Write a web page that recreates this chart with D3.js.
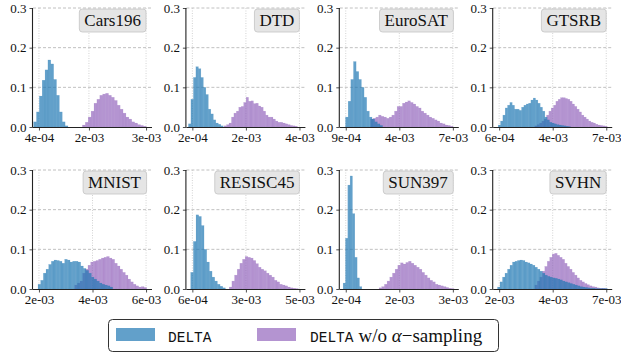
<!DOCTYPE html>
<html>
<head>
<meta charset="utf-8">
<script src="https://cdn.jsdelivr.net/npm/d3@7/dist/d3.min.js"></script>
<style>
  html, body { margin: 0; padding: 0; background: #fff; }
  svg { display: block; }
</style>
</head>
<body>
<svg id="chart" width="621" height="354"></svg>
<script>
// ---------------- data ----------------
const datasets = ["Cars196", "DTD", "EuroSAT", "GTSRB", "MNIST", "RESISC45", "SUN397", "SVHN"];
const yTicks = [0.0, 0.1, 0.2, 0.3];

// x tick labels (rounded values as printed) and their relative positions on each axis
const xTickLabels = [
  ["4e-04", "2e-03", "3e-03"],
  ["2e-04", "2e-03", "4e-03"],
  ["9e-04", "4e-03", "7e-03"],
  ["6e-04", "4e-03", "7e-03"],
  ["2e-03", "4e-03", "6e-03"],
  ["6e-04", "3e-03", "5e-03"],
  ["2e-04", "2e-03", "3e-03"],
  ["2e-03", "4e-03", "7e-03"]
];
const xTickPositions = [
  [0.05, 0.47, 0.95],
  [0.05, 0.5, 0.95],
  [0.05, 0.5, 0.95],
  [0.05, 0.5, 0.95],
  [0.05, 0.5, 0.95],
  [0.05, 0.5, 0.95],
  [0.05, 0.5, 0.95],
  [0.05, 0.5, 0.95]
];

// DELTA histograms: value range (relative axis units) and bin frequencies
const deltaRanges = [
  [0.005, 0.294], [0.017, 0.31], [0.048, 0.36], [0.042, 0.65],
  [0.042, 0.67], [0.036, 0.328], [0.028, 0.185], [0.036, 0.96]
];
const deltaValues = [
  [0.013, 0.038, 0.078, 0.118, 0.144, 0.169, 0.159, 0.12, 0.08, 0.038, 0.013, 0.003],
  [0.008, 0.07, 0.125, 0.152, 0.147, 0.125, 0.1, 0.082, 0.045, 0.033, 0.018, 0.01, 0.007, 0.003],
  [0.025, 0.065, 0.12, 0.165, 0.14, 0.12, 0.1, 0.075, 0.04, 0.025, 0.02, 0.013, 0.008, 0.004],
  [0.005, 0.015, 0.03, 0.048, 0.055, 0.062, 0.055, 0.045, 0.045, 0.042, 0.05, 0.055, 0.058, 0.06, 0.068, 0.073,
   0.068, 0.06, 0.05, 0.04, 0.025, 0.018, 0.012, 0.01, 0.008, 0.006, 0.005, 0.004, 0.003, 0.002, 0.001],
  [0.012, 0.022, 0.04, 0.05, 0.062, 0.07, 0.073, 0.072, 0.07, 0.065, 0.075, 0.073, 0.068, 0.07, 0.07, 0.068,
   0.058, 0.052, 0.047, 0.04, 0.03, 0.025, 0.02, 0.015, 0.012, 0.01, 0.008, 0.005],
  [0.042, 0.12, 0.187, 0.183, 0.16, 0.1, 0.068, 0.045, 0.03, 0.02, 0.012, 0.007, 0.003],
  [0.015, 0.128, 0.262, 0.285, 0.19, 0.08, 0.028, 0.006],
  [0.005, 0.018, 0.03, 0.04, 0.05, 0.06, 0.068, 0.07, 0.072, 0.073, 0.072, 0.068, 0.066, 0.063, 0.06, 0.055,
   0.05, 0.045, 0.04, 0.035, 0.032, 0.03, 0.028, 0.027, 0.025, 0.023, 0.02, 0.018, 0.016, 0.014, 0.012, 0.01,
   0.008, 0.006, 0.005, 0.004, 0.003, 0.002, 0.002, 0.001, 0.001, 0.001, 0.001, 0.001]
];

// DELTA w/o alpha-sampling histograms
const noAlphaRanges = [
  [0.415, 0.952], [0.317, 0.933], [0.258, 0.952], [0.35, 0.958],
  [0.35, 0.955], [0.36, 0.94], [0.33, 0.96], [0.35, 0.955]
];
const noAlphaValues = [
  [0.005, 0.012, 0.025, 0.04, 0.06, 0.07, 0.08, 0.083, 0.085, 0.08, 0.075, 0.067, 0.055, 0.045, 0.035, 0.025,
   0.02, 0.013, 0.01, 0.006, 0.004, 0.002],
  [0.003, 0.006, 0.01, 0.025, 0.035, 0.04, 0.05, 0.052, 0.062, 0.075, 0.065, 0.066, 0.059, 0.06, 0.053, 0.05,
   0.04, 0.03, 0.025, 0.025, 0.02, 0.015, 0.012, 0.012, 0.01, 0.008, 0.006, 0.004, 0.003, 0.002],
  [0.02, 0.022, 0.025, 0.03, 0.027, 0.025, 0.022, 0.025, 0.03, 0.04, 0.052, 0.052, 0.06, 0.063, 0.066, 0.062,
   0.058, 0.052, 0.048, 0.04, 0.035, 0.03, 0.025, 0.022, 0.018, 0.015, 0.01, 0.008, 0.005, 0.004, 0.002],
  [0.003, 0.006, 0.01, 0.015, 0.02, 0.03, 0.04, 0.048, 0.055, 0.065, 0.07, 0.074, 0.074, 0.072, 0.07, 0.065,
   0.058, 0.052, 0.045, 0.038, 0.03, 0.025, 0.02, 0.015, 0.012, 0.01, 0.007, 0.005, 0.004, 0.003, 0.002],
  [0.01, 0.015, 0.02, 0.04, 0.05, 0.06, 0.068, 0.07, 0.072, 0.075, 0.078, 0.08, 0.082, 0.078, 0.075, 0.065,
   0.058, 0.05, 0.042, 0.035, 0.025, 0.018, 0.012, 0.008, 0.005, 0.006, 0.004],
  [0.005, 0.02, 0.035, 0.05, 0.065, 0.075, 0.082, 0.08, 0.078, 0.072, 0.064, 0.055, 0.05, 0.046, 0.04, 0.035,
   0.03, 0.022, 0.018, 0.012, 0.01, 0.008, 0.005, 0.003, 0.002, 0.001],
  [0.003, 0.006, 0.012, 0.02, 0.03, 0.04, 0.05, 0.06, 0.066, 0.063, 0.067, 0.07, 0.065, 0.06, 0.055, 0.05,
   0.042, 0.035, 0.028, 0.022, 0.018, 0.012, 0.01, 0.008, 0.006, 0.004, 0.002, 0.001],
  [0.01, 0.02, 0.03, 0.045, 0.057, 0.07, 0.08, 0.088, 0.09, 0.085, 0.08, 0.075, 0.065, 0.057, 0.05, 0.042,
   0.035, 0.028, 0.022, 0.018, 0.014, 0.011, 0.008, 0.006, 0.005, 0.003, 0.002, 0.002, 0.001]
];

// legend text pieces
const legendMono = "DELTA";
const legendRest = ["w/o ", "α", "−sampling"];

// ---------------- layout / style ----------------
const colorDelta = "#1f77b4";
const colorNoAlpha = "#9467bd";
const barOpacity = 0.7;
const serif = "'Liberation Serif', 'Times New Roman', serif";
const mono = "'Liberation Mono', 'DejaVu Sans Mono', monospace";

const panelW = 119, panelH = 119;
const left0 = 33, colStep = 153.4;
const top0 = 8, rowStep = 162;

const svg = d3.select("#chart");

const y = d3.scaleLinear().domain([0, 0.3]).range([panelH, 0]);

function binsOf(range, values) {
  const w = (range[1] - range[0]) / values.length;
  return values.map((v, i) => ({ x0: range[0] + i * w, x1: range[0] + (i + 1) * w, v }));
}

datasets.forEach((name, k) => {
  const col = k % 4, row = Math.floor(k / 4);
  const g = svg.append("g")
    .attr("transform", `translate(${left0 + col * colStep},${top0 + row * rowStep})`);
  const x = d3.scaleLinear().domain([0, 1]).range([0, panelW]);

  // grid
  g.append("g").selectAll("line").data(yTicks.filter(d => d > 0)).join("line")
    .attr("x1", 0).attr("x2", panelW)
    .attr("y1", d => y(d)).attr("y2", d => y(d))
    .attr("stroke", "#b0b0b0").attr("stroke-width", 0.8).attr("stroke-dasharray", "3,2");
  g.append("g").selectAll("line").data(xTickPositions[k]).join("line")
    .attr("x1", d => x(d)).attr("x2", d => x(d))
    .attr("y1", 0).attr("y2", panelH)
    .attr("stroke", "#c8c8c8").attr("stroke-width", 0.8).attr("stroke-dasharray", "1,1.5");

  // bars: w/o alpha first, DELTA on top
  const drawBars = (bins, color) => {
    g.append("g").selectAll("rect").data(bins).join("rect")
      .attr("x", d => x(d.x0))
      .attr("width", d => x(d.x1) - x(d.x0))
      .attr("y", d => y(d.v))
      .attr("height", d => y(0) - y(d.v))
      .attr("fill", color)
      .attr("fill-opacity", barOpacity)
      .attr("stroke", color)
      .attr("stroke-opacity", 0.25)
      .attr("stroke-width", 0.4);
  };
  drawBars(binsOf(noAlphaRanges[k], noAlphaValues[k]), colorNoAlpha);
  drawBars(binsOf(deltaRanges[k], deltaValues[k]), colorDelta);

  // axes
  const xAxis = d3.axisBottom(x)
    .tickValues(xTickPositions[k])
    .tickFormat((d, i) => xTickLabels[k][i])
    .tickSize(3.5).tickPadding(2.5);
  const gx = g.append("g").attr("transform", `translate(0,${panelH})`).call(xAxis);
  const yAxis = d3.axisLeft(y).tickValues(yTicks).tickFormat(d3.format(".1f"))
    .tickSize(3.5).tickPadding(3);
  const gy = g.append("g").call(yAxis);
  [gx, gy].forEach(a => {
    a.attr("font-family", serif).attr("font-size", 13);
    a.select(".domain").attr("stroke", "#222").attr("stroke-width", 1.1);
    a.selectAll(".tick line").attr("stroke", "#222").attr("stroke-width", 0.8);
    a.selectAll(".tick text").style("font-family", serif).style("font-size", "13px").attr("fill", "#111");
  });
  gx.select(".domain").attr("d", `M0,0.5H${panelW}`);
  gy.select(".domain").attr("d", `M-0.5,${panelH}V0`);

  // title box
  const tg = g.append("g");
  const t = tg.append("text")
    .style("font-family", serif).style("font-size", "17px").attr("fill", "#111")
    .attr("text-anchor", "end")
    .attr("x", panelW - 11).attr("y", 18)
    .text(name);
  const bb = t.node().getBBox();
  tg.insert("rect", "text")
    .attr("x", bb.x - 5).attr("y", 1)
    .attr("width", bb.width + 10).attr("height", 23)
    .attr("rx", 3).attr("ry", 3)
    .attr("fill", "#e5e5e5").attr("stroke", "#c4c4c4").attr("stroke-width", 0.8);
});

// ---------------- legend ----------------
const lg = svg.append("g");
lg.append("rect").attr("x", 108.5).attr("y", 319.5).attr("width", 390).attr("height", 32)
  .attr("rx", 4).attr("fill", "#fff").attr("stroke", "#333").attr("stroke-width", 1);
const legendItems = [
  { color: colorDelta, px: 116, tx: 168 },
  { color: colorNoAlpha, px: 257, tx: 310 }
];
legendItems.forEach((it, i) => {
  lg.append("rect").attr("x", it.px).attr("y", 328).attr("width", 39).attr("height", 13)
    .attr("fill", it.color).attr("fill-opacity", barOpacity);
  const txt = lg.append("text").attr("x", it.tx).attr("y", 342)
    .style("font-family", serif).style("font-size", "19px").style("white-space", "pre")
    .attr("fill", "#111");
  txt.append("tspan")
    .style("font-family", mono).style("font-size", "14.5px")
    .text(legendMono);
  if (i === 1) {
    txt.append("tspan").attr("dx", 5).text(legendRest[0]);
    txt.append("tspan").style("font-style", "italic").text(legendRest[1]);
    txt.append("tspan").text(legendRest[2]);
  }
});
</script>
</body>
</html>
